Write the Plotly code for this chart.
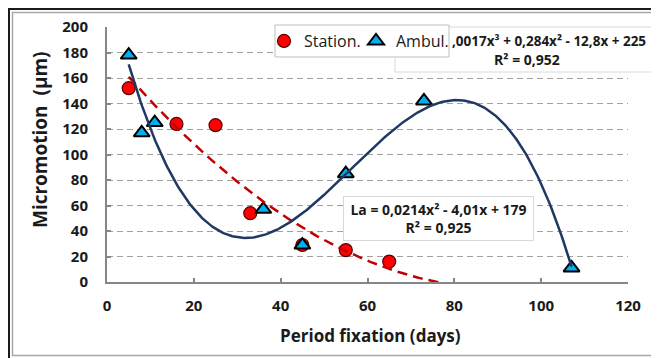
import numpy as np
import plotly.graph_objects as go

# ---- data ----
station_x = [5, 16, 25, 33, 45, 55, 65]
station_y = [152, 124, 123, 54, 29, 25, 16]
ambul_x = [5, 8, 11, 36, 45, 55, 73, 107]
ambul_y = [178, 117, 125, 57, 29, 85, 142, 11]

x_ticks = [0, 20, 40, 60, 80, 100, 120]
y_ticks = [0, 20, 40, 60, 80, 100, 120, 140, 160, 180, 200]

eq_ambul = ",0017x³ + 0,284x² - 12,8x + 225"
r2_ambul = "R² = 0,952"
eq_station = "La = 0,0214x² - 4,01x + 179<br>R² = 0,925"

# trendlines fitted from the data (as the spreadsheet did)
ps = np.polyfit(station_x, station_y, 2)
pa = np.polyfit(ambul_x, ambul_y, 3)
xs = np.linspace(min(station_x), max(station_x) + 15, 200)
xa = np.linspace(min(ambul_x), max(ambul_x), 300)

FONT = "Open Sans"
TXT = "#1a1a1a"

fig = go.Figure()
fig.add_trace(go.Scatter(
    x=station_x, y=station_y, mode="markers", name="Station.", legend="legend",
    marker=dict(symbol="circle", size=13, color="#ff0000",
                line=dict(color="#5a0000", width=1.2))))
fig.add_trace(go.Scatter(
    x=ambul_x, y=ambul_y, mode="markers", name="Ambul.", legend="legend2",
    marker=dict(symbol="triangle-up", size=14, color="#00b0f0",
                line=dict(color="#000000", width=2))))
fig.add_trace(go.Scatter(
    x=xs, y=np.polyval(ps, xs), mode="lines", showlegend=False,
    line=dict(color="#c00000", width=2.5, dash="10px,6px"), hoverinfo="skip"))
fig.add_trace(go.Scatter(
    x=xa, y=np.polyval(pa, xa), mode="lines", showlegend=False,
    line=dict(color="#1f3864", width=2.5), hoverinfo="skip"))

# page is shown with an 8px body margin: screen = figure + 8
OFF = 8
W, H = 659 - OFF, 358 - OFF
PL, PR, PT, PB = 107, 628, 27, 282          # plot area in screen pixels
L, T = PL - OFF, PT - OFF
R = W - (PR - OFF)
B = H - (PB - OFF)
pw, ph = PR - PL, PB - PT


def px(x):
    return (x - PL) / pw


def py(y):
    return (PB - y) / ph


shapes = [
    # outer frame
    dict(type="rect", xref="paper", yref="paper", x0=px(9), x1=px(700), y0=py(400), y1=py(9),
         line=dict(color="#1a1a1a", width=2), fillcolor="rgba(0,0,0,0)", layer="above"),
    dict(type="rect", xref="paper", yref="paper", x0=px(12.5), x1=px(656.5), y0=py(355.5), y1=py(12.5),
         line=dict(color="#a6a6a6", width=1.5), fillcolor="rgba(0,0,0,0)", layer="above"),
    # equation box for ambul.
    dict(type="rect", xref="paper", yref="paper", x0=px(395), x1=px(655), y0=py(72), y1=py(27),
         line=dict(color="#d9d9d9", width=1), fillcolor="white", layer="above"),
    # legend box
    dict(type="rect", xref="paper", yref="paper", x0=px(275), x1=px(449), y0=py(57), y1=py(25),
         line=dict(color="#bfbfbf", width=1), fillcolor="white", layer="above"),
]

annotations = [
    dict(text=eq_ambul, xref="paper", yref="paper", x=px(450), y=py(41), xanchor="left",
         yanchor="middle", showarrow=False, font=dict(family=FONT, size=13.5, color=TXT, weight="bold")),
    dict(text=r2_ambul, xref="paper", yref="paper", x=px(527), y=py(60), xanchor="center",
         yanchor="middle", showarrow=False, font=dict(family=FONT, size=14, color=TXT, weight="bold")),
    dict(text=eq_station, xref="paper", yref="paper", x=px(438.5), y=py(218.5), xanchor="center",
         yanchor="middle", showarrow=False, align="center", width=187, height=41,
         bgcolor="white", bordercolor="#d9d9d9", borderwidth=1, borderpad=1,
         font=dict(family=FONT, size=14, color=TXT, weight="bold")),
    dict(text="Micromotion\u00a0 (μm)", xref="paper", yref="paper", x=px(40), y=py(140),
         textangle=-90, showarrow=False, xanchor="center", yanchor="middle",
         font=dict(family=FONT, size=19, color=TXT, weight="bold")),
    dict(text="Period fixation (days)", xref="paper", yref="paper", x=px(370), y=py(335),
         showarrow=False, xanchor="center", yanchor="middle",
         font=dict(family=FONT, size=17, color=TXT, weight="bold")),
]

leg_common = dict(orientation="h", xanchor="left", yanchor="middle",
                  bgcolor="rgba(0,0,0,0)", borderwidth=0, itemwidth=30,
                  font=dict(family=FONT, size=16, color=TXT))

fig.update_layout(
    width=W, height=H,
    margin=dict(l=L, r=R, t=T, b=B, autoexpand=False),
    paper_bgcolor="white", plot_bgcolor="white",
    font=dict(family=FONT, color=TXT),
    showlegend=True,
    legend=dict(x=px(264), y=py(41), **leg_common),
    legend2=dict(x=px(356), y=py(41), **leg_common),
    shapes=shapes, annotations=annotations,
)
fig.update_xaxes(range=[0, 120], tickvals=x_ticks, showgrid=False, zeroline=False,
                 showline=True, linecolor="#868686", linewidth=2,
                 ticks="inside", ticklen=4, tickwidth=1.5, tickcolor="#868686",
                 ticklabelstandoff=9,
                 tickfont=dict(family=FONT, size=15, color=TXT, weight="bold"))
fig.update_yaxes(range=[0, 200], tickvals=y_ticks, showgrid=True, gridcolor="#a0a0a0",
                 gridwidth=1.3, griddash="6px,4px", zeroline=False,
                 showline=True, linecolor="#868686", linewidth=2,
                 ticks="inside", ticklen=4, tickwidth=1.5, tickcolor="#868686",
                 ticklabelstandoff=14,
                 tickfont=dict(family=FONT, size=15, color=TXT, weight="bold"))

fig.write_html("out.html")
